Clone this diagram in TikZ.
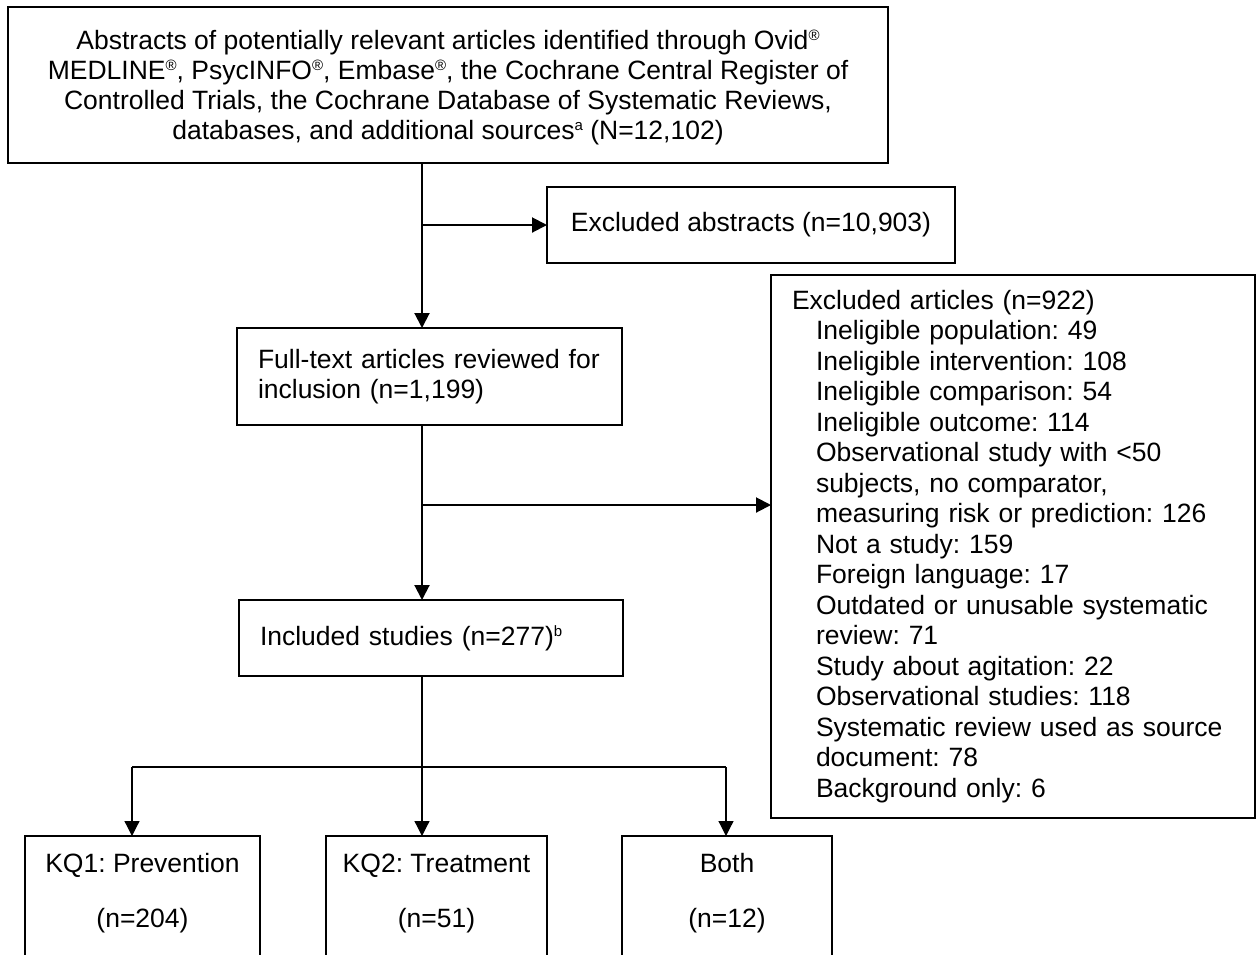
\documentclass[tikz,border=0pt]{standalone}
\usepackage{fontspec}
\setmainfont{Liberation Sans}
\usetikzlibrary{arrows.meta,calc}
\frenchspacing
\newcommand\supx[1]{\raisebox{9pt}{\fontsize{15}{15}\selectfont #1}}
\begin{document}
\begin{tikzpicture}[x=1pt,y=-1pt,
  box/.style={draw, line width=2pt, inner sep=0pt, outer sep=0pt, anchor=north west,
    font=\fontsize{26.5}{30.5}\selectfont\frenchspacing},
  lbox/.style={box, align=left, inner xsep=21pt},
  sbox/.style={draw, line width=1.2pt, inner sep=0pt, outer sep=0pt, anchor=north west, minimum height=160pt},
  stext/.style={inner sep=0pt, anchor=north, align=center, font=\fontsize{26.5}{55}\selectfont},
  arr/.style={line width=2pt, -{Triangle[length=15pt,width=15pt]}},
  thinln/.style={line width=1.2pt},
  thinarr/.style={line width=1.2pt, -{Triangle[length=15pt,width=15pt]}}]
\useasboundingbox (0,0) rectangle (1256,954);
\clip (0,0) rectangle (1256,954);

\node[box, align=center, minimum width=880pt, minimum height=156pt, font=\fontsize{26.5}{30}\selectfont] (top) at (8,7)
  {\rule{0pt}{25pt}Abstracts of potentially relevant articles identified through Ovid\supx{®}\\
   MEDLINE\supx{®}, PsycINFO\supx{®}, Embase\supx{®}, the Cochrane Central Register of\\
   Controlled Trials, the Cochrane Database of Systematic Reviews,\\
   databases, and additional sources\supx{a} (N=12,102)};

\node[box, align=center, minimum width=408pt, minimum height=76pt] (exa) at (547,187)
  {Excluded abstracts (n=10,903)};

\node[lbox, text width=343pt, minimum width=385pt, minimum height=97pt] (ft) at (237,328)
  {\mbox{Full-text articles reviewed for}\\ \mbox{inclusion (n=1,199)}};

\node[lbox, text width=342pt, minimum width=384pt, minimum height=76pt] (inc) at (239,600)
  {\mbox{Included studies (n=277)\supx{b}}};

\node[lbox, text width=442pt, minimum width=484pt, minimum height=543pt] (exart) at (771,275)
  {Excluded articles (n=922)\\
   \hspace*{24pt}Ineligible population: 49\\
   \hspace*{24pt}Ineligible intervention: 108\\
   \hspace*{24pt}Ineligible comparison: 54\\
   \hspace*{24pt}Ineligible outcome: 114\\
   \hspace*{24pt}Observational study with <50\\
   \hspace*{24pt}subjects, no comparator,\\
   \hspace*{24pt}measuring risk or prediction: 126\\
   \hspace*{24pt}Not a study: 159\\
   \hspace*{24pt}Foreign language: 17\\
   \hspace*{24pt}Outdated or unusable systematic\\
   \hspace*{24pt}review: 71\\
   \hspace*{24pt}Study about agitation: 22\\
   \hspace*{24pt}Observational studies: 118\\
   \hspace*{24pt}Systematic review used as source\\
   \hspace*{24pt}document: 78\\
   \hspace*{24pt}Background only: 6};

\node[sbox, minimum width=235pt] (kq1) at (25,836) {};
\node[sbox, minimum width=221pt] (kq2) at (326,836) {};
\node[sbox, minimum width=210pt] (both) at (622,836) {};
\node[stext] (kq1t) at ([yshift=-17.5pt]kq1.north) {KQ1: Prevention\\(n=204)};
\node[stext] (kq2t) at ([yshift=-17.5pt]kq2.north) {KQ2: Treatment\\(n=51)};
\node[stext] (botht) at ([yshift=-17.5pt]both.north) {Both\\(n=12)};

\coordinate (sp) at (422,0);
\coordinate (br) at (422,505);
\coordinate (a1) at (132,767);
\coordinate (a2) at (422,767);
\coordinate (a3) at (726,767);

\draw[arr] (sp |- top.south) -- (sp |- ft.north);
\draw[arr] (sp |- exa.west) -- (exa.west);
\draw[arr] (sp |- ft.south) -- (sp |- inc.north);
\draw[arr] (br) -- (br -| exart.west);
\draw[thinln] (sp |- inc.south) -- (a2);
\draw[thinln] (a1) -- (a3);
\draw[thinarr] (a1) -- (a1 |- kq1.north);
\draw[thinarr] (a2) -- (a2 |- kq2.north);
\draw[thinarr] (a3) -- (a3 |- both.north);
\end{tikzpicture}
\end{document}
